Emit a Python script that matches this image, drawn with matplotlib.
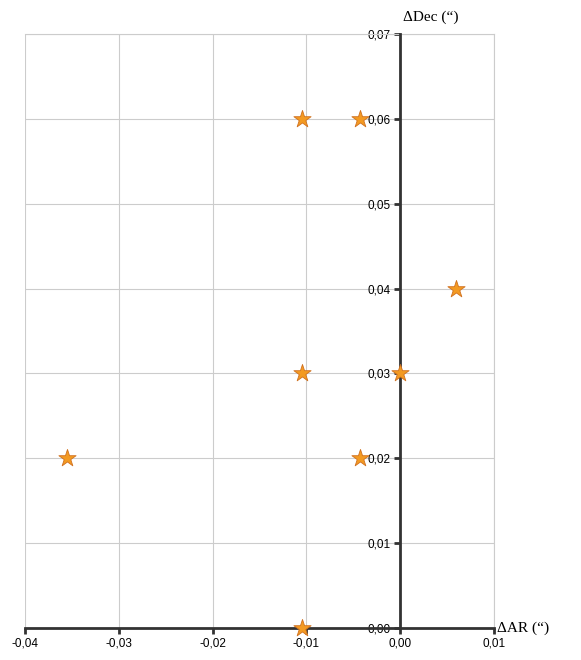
import matplotlib.pyplot as plt
from matplotlib.ticker import FuncFormatter

# offsets in arcsec
d_ar = [-0.0105, -0.0043, 0.0060, -0.0105, 0.0000, -0.0355, -0.0043, -0.0105]
d_dec = [0.06, 0.06, 0.04, 0.03, 0.03, 0.02, 0.02, 0.00]

x_ticks = [-0.04, -0.03, -0.02, -0.01, 0.00, 0.01]
y_ticks = [0.00, 0.01, 0.02, 0.03, 0.04, 0.05, 0.06, 0.07]

fig = plt.figure(figsize=(5.81, 6.6), dpi=100)
ax = fig.add_axes([25 / 581, 1 - 628 / 660, 469 / 581, 594 / 660])

ax.scatter(d_ar, d_dec, marker="*", s=170, color="#f39a22", edgecolors="#d0701e",
           linewidths=0.6, zorder=5, clip_on=False)

ax.set_xlim(-0.04, 0.01)
ax.set_ylim(0.0, 0.07)
ax.set_xticks(x_ticks)
ax.set_yticks(y_ticks)

comma = FuncFormatter(lambda v, pos: f"{v:.2f}".replace(".", ",").replace("-0,00", "0,00"))
ax.xaxis.set_major_formatter(comma)
ax.yaxis.set_major_formatter(comma)

ax.grid(True, color="#cccccc", linewidth=0.8)
ax.set_axisbelow(True)

# axes cross at the origin
ax.spines["left"].set_position(("data", 0))
ax.spines["bottom"].set_position(("data", 0))
for s in ["left", "bottom"]:
    ax.spines[s].set_color("#333333")
    ax.spines[s].set_linewidth(2)
    ax.spines[s].set_zorder(3)
for s in ["top", "right"]:
    ax.spines[s].set_color("#cccccc")
    ax.spines[s].set_linewidth(0.8)

ax.tick_params(axis="both", direction="out", length=4, width=2, color="#333333",
               labelsize=8.5, pad=3)
for lbl in ax.get_xticklabels() + ax.get_yticklabels():
    lbl.set_family("Liberation Sans")

ax.text(0.0103, 0.0, "\u0394AR (\u201c)", family="Liberation Serif", fontsize=11,
        ha="left", va="center")
ax.text(0.0003, 0.0712, "\u0394Dec (\u201c)", family="Liberation Serif", fontsize=11,
        ha="left", va="bottom")

fig.savefig("out.png", dpi=100)
